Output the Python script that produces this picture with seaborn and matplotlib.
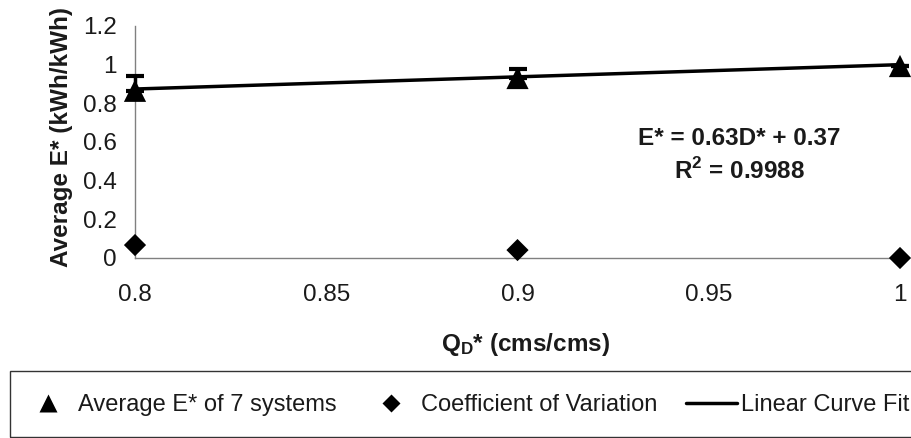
import matplotlib
matplotlib.use("Agg")
import matplotlib.pyplot as plt
from matplotlib.lines import Line2D
from matplotlib.patches import Rectangle
from matplotlib.ticker import FuncFormatter
import seaborn as sns

# Design flow ratio and the measured energy ratios
flow_ratio = [0.8, 0.9, 1.0]
avg_energy = [0.865, 0.931, 0.993]
energy_err = [0.075, 0.045, 0.0]
coef_var = [0.067, 0.041, 0.0]

# Linear fit reported on the chart
fit_slope = 0.63
fit_intercept = 0.37
fit_x = [0.8, 1.0]
fit_y = [fit_slope * x + fit_intercept for x in fit_x]

y_ticks = [0, 0.2, 0.4, 0.6, 0.8, 1.0, 1.2]
x_ticks = [0.8, 0.85, 0.9, 0.95, 1.0]

legend_labels = ["Average E* of 7 systems", "Coefficient of Variation", "Linear Curve Fit"]

sns.set_theme(style="white")
plt.rcParams["font.family"] = ["Liberation Sans", "DejaVu Sans"]
plt.rcParams["mathtext.fontset"] = "custom"
plt.rcParams["mathtext.rm"] = "Liberation Sans"
plt.rcParams["mathtext.bf"] = "Liberation Sans:bold"

TXT = "#1a1a1a"
AXC = "#808080"
FS = 17.5
LFS = 17

fig = plt.figure(figsize=(9.12, 4.38), dpi=100)
ax = fig.add_axes([135 / 912, 1 - 258 / 438, 765 / 912, 232 / 438])

sns.lineplot(x=fit_x, y=fit_y, color="black", linewidth=2.5, ax=ax, legend=False, zorder=3)
# upper error bars only
ax.errorbar(flow_ratio, avg_energy, yerr=[[0] * len(energy_err), energy_err], fmt="none",
            ecolor="black", elinewidth=2.5, capsize=6.5, capthick=3, zorder=5, clip_on=False)
sns.scatterplot(x=flow_ratio, y=avg_energy, marker="^", s=16 ** 2, color="black",
                edgecolor="none", ax=ax, legend=False, zorder=4, clip_on=False)
sns.scatterplot(x=flow_ratio, y=coef_var, marker="D", s=11.3 ** 2, color="black",
                edgecolor="none", ax=ax, legend=False, zorder=4, clip_on=False)

ax.set_xlim(0.8, 1.0)
ax.set_ylim(0, 1.2)
ax.set_xticks(x_ticks)
ax.set_yticks(y_ticks)
fmt = FuncFormatter(lambda v, p: f"{v:g}")
ax.xaxis.set_major_formatter(fmt)
ax.yaxis.set_major_formatter(fmt)

sns.despine(ax=ax)
for side in ("left", "bottom"):
    ax.spines[side].set_color(AXC)
    ax.spines[side].set_linewidth(1.0)

ax.tick_params(axis="both", direction="out", length=5, width=1, color=AXC,
               labelsize=FS, labelcolor=TXT)
ax.tick_params(axis="y", pad=8)
ax.tick_params(axis="x", pad=14)

ax.set_xlabel(r"$\mathbf{Q_{D}}$* (cms/cms)", fontsize=FS, fontweight="bold", color=TXT)
ax.xaxis.set_label_coords((525 - 135) / 765, (258 - 345) / 232)
ax.xaxis.label.set_va("center")
ax.set_ylabel("Average E* (kWh/kWh)", fontsize=FS, fontweight="bold", color=TXT)
ax.yaxis.set_label_coords((73 - 135) / 765, (258 - 137) / 232)

ax.text(0.958, 0.62, "E* = 0.63D* + 0.37", fontsize=FS, fontweight="bold",
        color=TXT, ha="center", va="center")
ax.text(0.958, 0.45, r"R$^{\mathbf{2}}$ = 0.9988", fontsize=FS, fontweight="bold",
        color=TXT, ha="center", va="center")

handles = [
    Line2D([], [], marker="^", ls="none", ms=13, color="black", mec="none"),
    Line2D([], [], marker="D", ls="none", ms=8.7, color="black", mec="none"),
    Line2D([], [], color="black", lw=2.5),
]
fig.legend(handles, legend_labels, ncol=3, loc="center left",
           bbox_to_anchor=(22.5 / 912, 1 - 405 / 438), frameon=False,
           fontsize=LFS, labelcolor=TXT, handlelength=2.16, handletextpad=0.2,
           columnspacing=1.2, borderpad=0, borderaxespad=0)
fig.add_artist(Rectangle((10 / 912, 1 / 438), 1.0, 66 / 438, transform=fig.transFigure,
                         fill=False, edgecolor="#333333", linewidth=1.0))

fig.savefig("out.png", dpi=100)
